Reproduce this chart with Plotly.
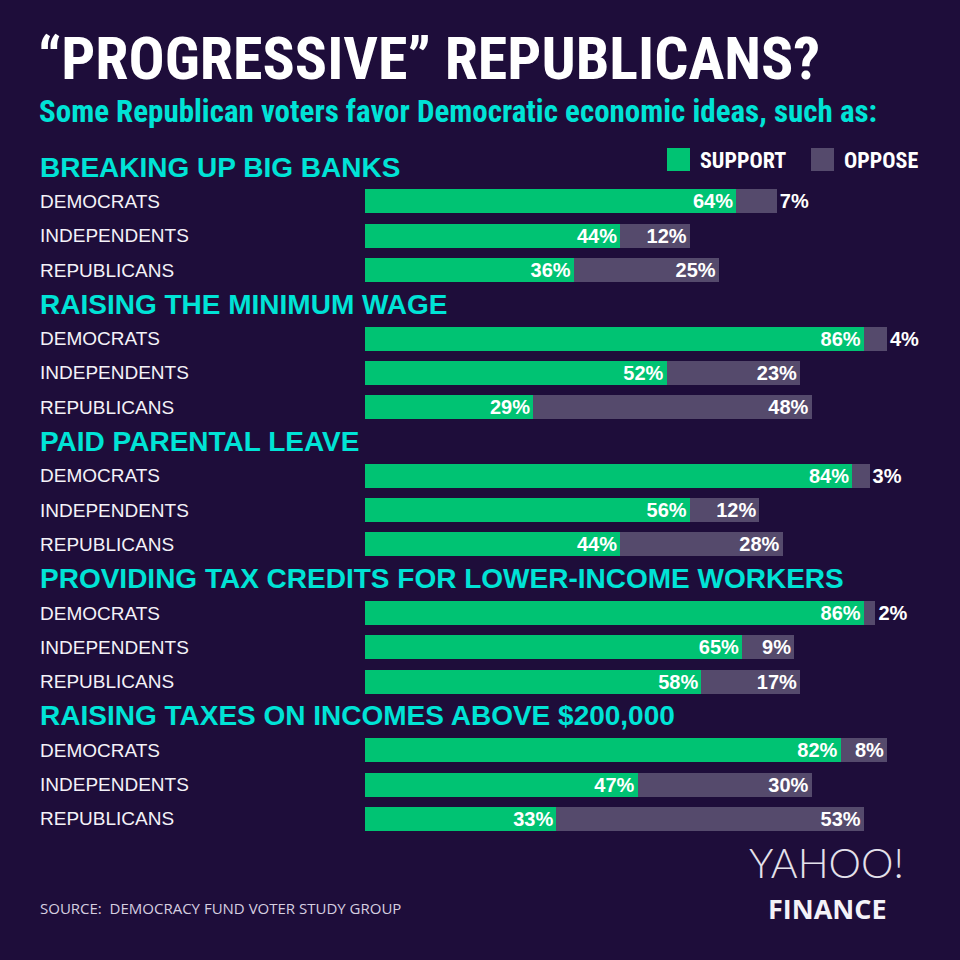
import plotly.graph_objects as go

# ---------------- data ----------------
issues = [
    "BREAKING UP BIG BANKS",
    "RAISING THE MINIMUM WAGE",
    "PAID PARENTAL LEAVE",
    "PROVIDING TAX CREDITS FOR LOWER-INCOME WORKERS",
    "RAISING TAXES ON INCOMES ABOVE $200,000",
]
parties = ["DEMOCRATS", "INDEPENDENTS", "REPUBLICANS"]
support = [
    [64, 44, 36],
    [86, 52, 29],
    [84, 56, 44],
    [86, 65, 58],
    [82, 47, 33],
]
oppose = [
    [7, 12, 25],
    [4, 23, 48],
    [3, 12, 28],
    [2, 9, 17],
    [8, 30, 53],
]
title = "\u201cPROGRESSIVE\u201d REPUBLICANS?"
subtitle = "Some Republican voters favor Democratic economic ideas, such as:"
source = "SOURCE:  DEMOCRACY FUND VOTER STUDY GROUP"

# ---------------- style ----------------
BG = "#1e0d3a"
GREEN = "#00c373"
GREY = "#554a6c"
CYAN = "#00e3d6"
WHITE = "#ffffff"
NARROW = "Liberation Sans Narrow, Arial Narrow, Roboto Condensed, Liberation Sans, Arial, sans-serif"
SANS = "Liberation Sans, Arial, Helvetica, sans-serif"

W = H = 960
L, R, T, B = 365, 15, 150, 124
PW, PH = W - L - R, H - T - B


def px_x(px):
    return (px - L) / PW


def px_y(py):
    return (H - B - py) / PH


# slot layout: each issue takes a header slot then three party rows
ys, sup_vals, opp_vals = [], [], []
for i in range(len(issues)):
    for j in range(len(parties)):
        ys.append(i * 4 + 1 + j)
        sup_vals.append(support[i][j])
        opp_vals.append(oppose[i][j])

fig = go.Figure()
fig.add_trace(go.Bar(
    y=ys, x=sup_vals, orientation="h", width=0.7,
    marker=dict(color=GREEN, line=dict(width=0)),
    text=[f"{v}%" for v in sup_vals], textposition="inside",
    insidetextanchor="end", textangle=0, constraintext="none",
    textfont=dict(family=SANS, size=20, color=WHITE, weight="bold"),
    hoverinfo="skip", name="SUPPORT",
))
fig.add_trace(go.Bar(
    y=ys, x=opp_vals, orientation="h", width=0.7,
    marker=dict(color=GREY, line=dict(width=0)),
    text=[f"{v}%" for v in opp_vals],
    textposition=["outside" if v < 8 else "inside" for v in opp_vals],
    insidetextanchor="end", textangle=0, constraintext="none",
    textfont=dict(family=SANS, size=20, color=WHITE, weight="bold"),
    cliponaxis=False, hoverinfo="skip", name="OPPOSE",
))

ann = []
# title & subtitle
ann.append(dict(text=title, x=px_x(36), y=px_y(59), xref="paper", yref="paper",
                xanchor="left", yanchor="middle", showarrow=False,
                font=dict(family=NARROW, size=60, color=WHITE, weight="bold")))
ann.append(dict(text=subtitle, x=px_x(37), y=px_y(112), xref="paper", yref="paper",
                xanchor="left", yanchor="middle", showarrow=False,
                font=dict(family=NARROW, size=31, color=CYAN, weight="bold")))
# section headers and party labels
for i, iss in enumerate(issues):
    ann.append(dict(text=iss, x=px_x(38), y=i * 4, xref="paper", yref="y",
                    xanchor="left", yanchor="middle", showarrow=False,
                    font=dict(family=SANS, size=28, color=CYAN, weight="bold")))
    for j, p in enumerate(parties):
        ann.append(dict(text=p, x=px_x(38), y=i * 4 + 1 + j, xref="paper", yref="y",
                        xanchor="left", yanchor="middle", showarrow=False,
                        font=dict(family=SANS, size=19, color="#f4f2f8")))
# legend
shapes = []
for x0, col, lab in [(667, GREEN, "SUPPORT"), (811, GREY, "OPPOSE")]:
    shapes.append(dict(type="rect", xref="paper", yref="paper",
                       x0=px_x(x0), x1=px_x(x0 + 23), y0=px_y(171), y1=px_y(148),
                       fillcolor=col, line=dict(width=0)))
    ann.append(dict(text=lab, x=px_x(x0 + 31), y=px_y(160), xref="paper", yref="paper",
                    xanchor="left", yanchor="middle", showarrow=False,
                    font=dict(family=NARROW, size=22, color=WHITE, weight="bold")))
# source
ann.append(dict(text=source, x=px_x(38), y=px_y(908), xref="paper", yref="paper",
                xanchor="left", yanchor="middle", showarrow=False,
                font=dict(family="Open Sans, sans-serif", size=15, color="#d6cfe0")))
# logo
ann.append(dict(text="YAHOO!", x=px_x(826), y=px_y(862), xref="paper", yref="paper",
                xanchor="center", yanchor="middle", showarrow=False,
                font=dict(family="Lato, Open Sans, sans-serif", size=41, color="#e4e1ea", weight=300)))
ann.append(dict(text="FINANCE", x=px_x(827), y=px_y(908), xref="paper", yref="paper",
                xanchor="center", yanchor="middle", showarrow=False,
                font=dict(family="Open Sans, sans-serif", size=27, color="#f4f2f8", weight="bold")))

fig.update_layout(
    width=W, height=H,
    margin=dict(l=L, r=R, t=T, b=B),
    paper_bgcolor=BG, plot_bgcolor=BG,
    barmode="stack", showlegend=False,
    xaxis=dict(range=[0, 100], visible=False, fixedrange=True),
    yaxis=dict(range=[19.5, -0.5], visible=False, fixedrange=True),
    annotations=ann, shapes=shapes,
)

fig.write_html(
    "out.html",
    config={"displayModeBar": False},
    post_script="document.body.style.margin='0';document.body.style.background='#1e0d3a';",
)
